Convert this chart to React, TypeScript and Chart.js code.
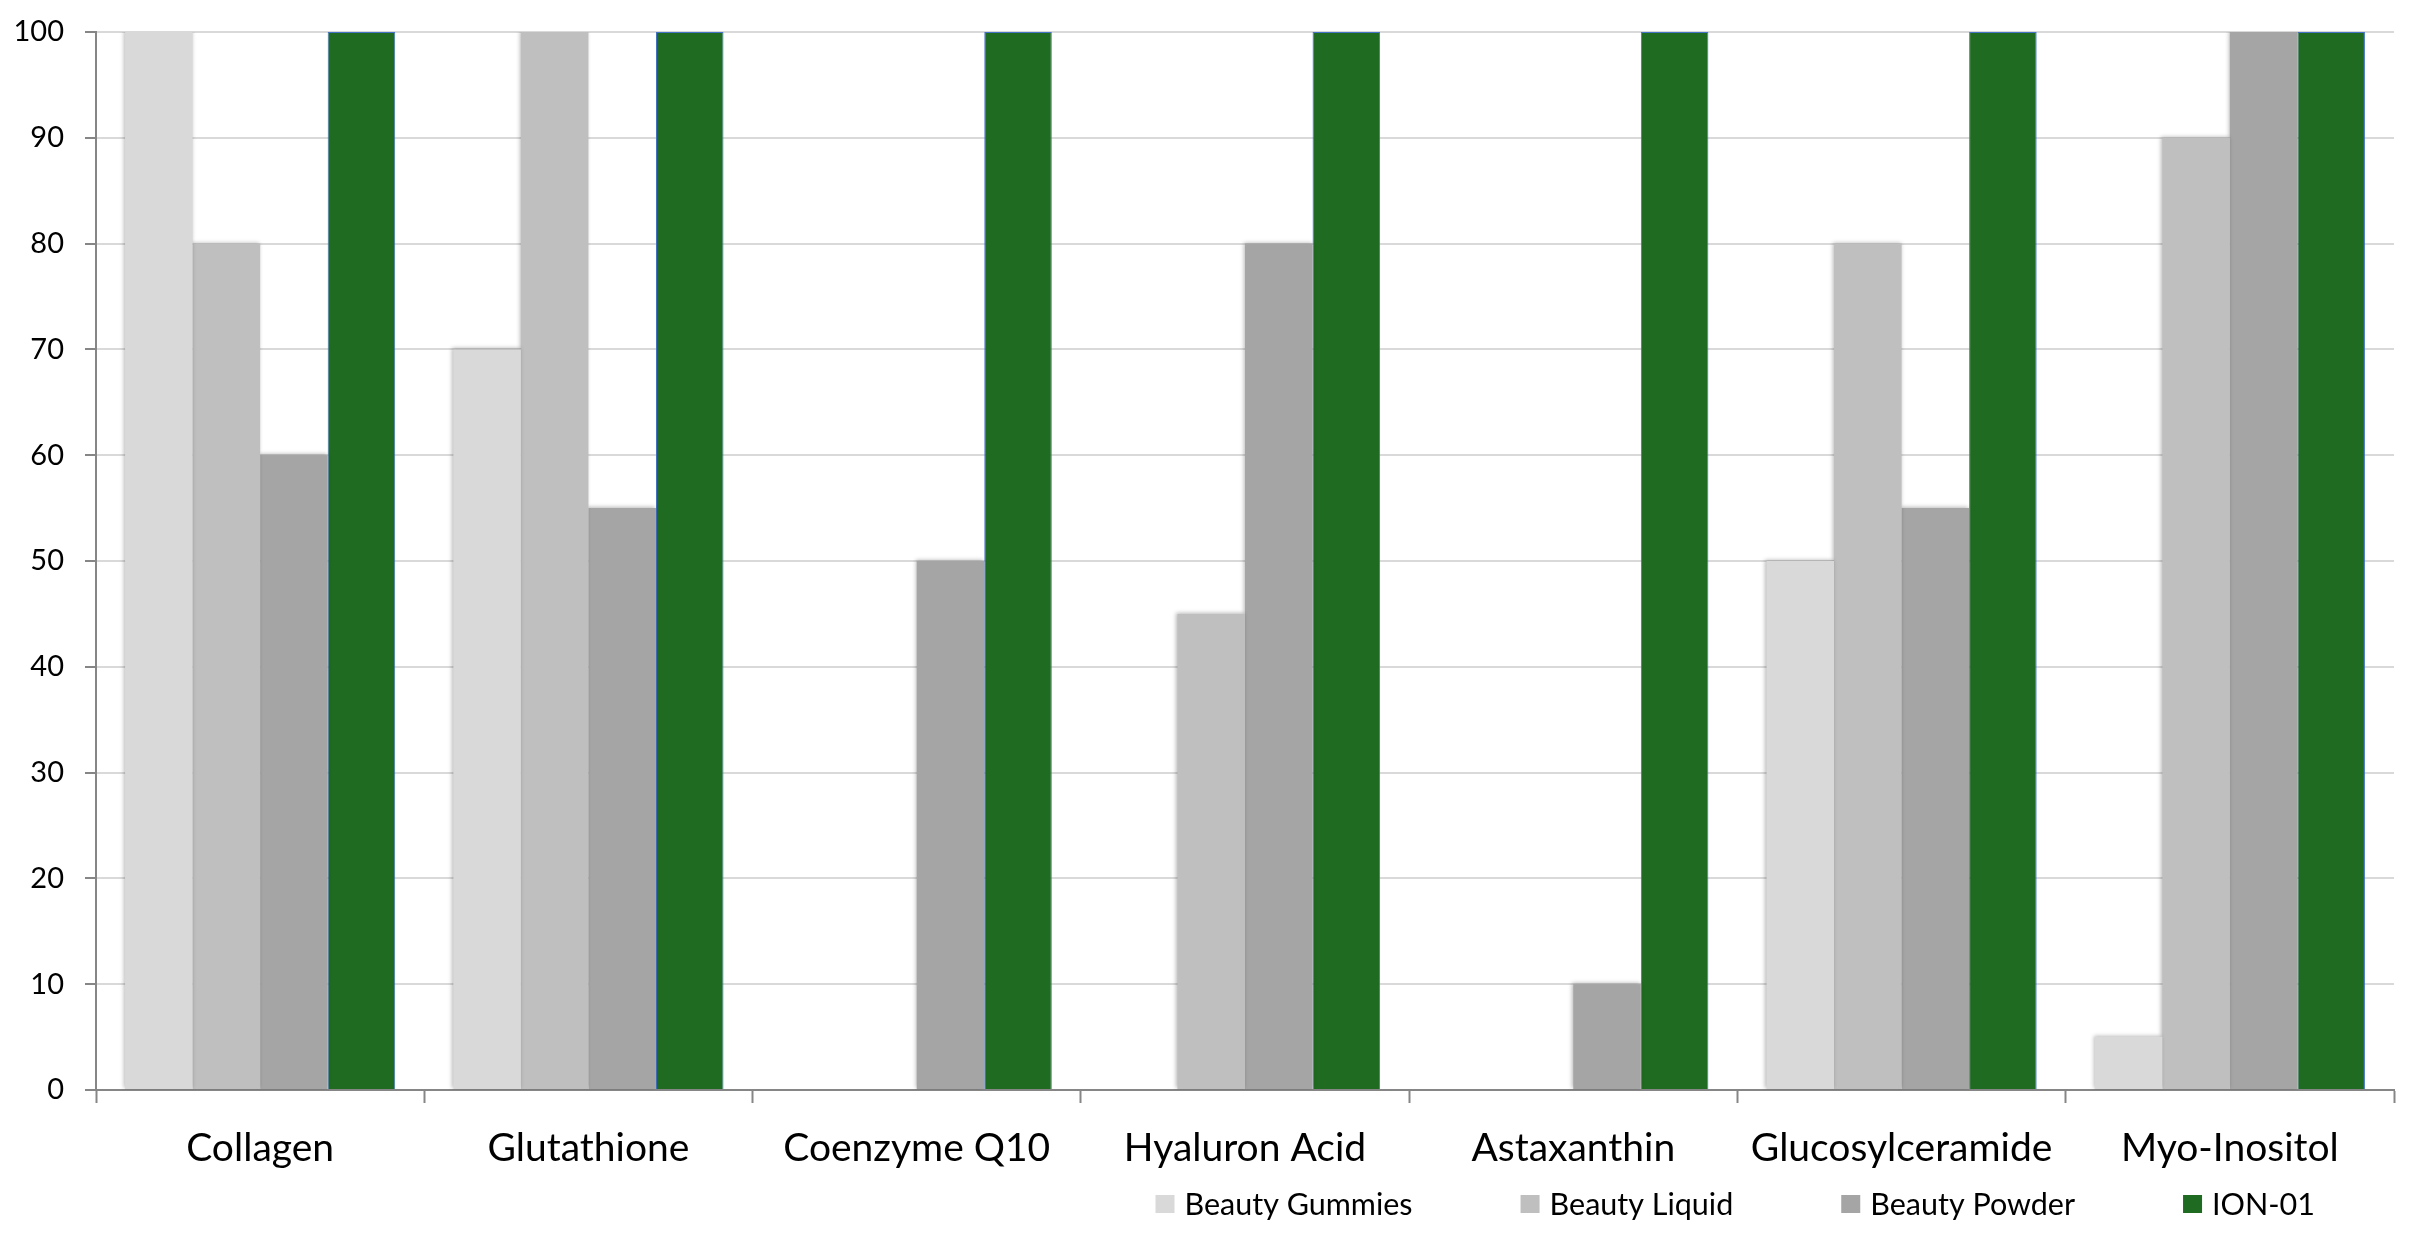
import React, { useEffect, useRef } from "react";
import { Chart, registerables } from "chart.js";

Chart.register(...registerables);

const categories = [
  "Collagen",
  "Glutathione",
  "Coenzyme Q10",
  "Hyaluron Acid",
  "Astaxanthin",
  "Glucosylceramide",
  "Myo-Inositol",
];
const seriesNames = ["Beauty Gummies", "Beauty Liquid", "Beauty Powder", "ION-01"];
const beautyGummies = [100, 70, 0, 0, 0, 50, 5];
const beautyLiquid = [80, 100, 0, 45, 0, 80, 90];
const beautyPowder = [60, 55, 50, 80, 10, 55, 100];
const ion01 = [100, 100, 100, 100, 100, 100, 100];
const seriesColors = ["#d9d9d9", "#bfbfbf", "#a5a5a5", "#1f6b21"];
const yMin = 0;
const yMax = 100;
const yStep = 10;

const FONT = "Lato, 'Open Sans', sans-serif";

const shadowPlugin = {
  id: "softShadow",
  beforeDatasetDraw(chart: any, args: any) {
    const ctx = chart.ctx;
    ctx.save();
    if (args.index < 3) {
      ctx.shadowColor = "rgba(0,0,0,0.28)";
      ctx.shadowBlur = 4;
      ctx.shadowOffsetX = -1;
      ctx.shadowOffsetY = -1;
    }
  },
  afterDatasetDraw(chart: any) {
    chart.ctx.restore();
  },
};

const legendPlugin = {
  id: "customLegend",
  afterDraw(chart: any) {
    const { ctx, chartArea } = chart;
    ctx.save();
    ctx.font = `30.5px ${FONT}`;
    ctx.textBaseline = "middle";
    ctx.textAlign = "left";
    const boxW = 19;
    const boxH = 18;
    const textGap = 10;
    const itemGap = 108;
    const items = chart.data.datasets.map((ds: any) => ({
      text: ds.label as string,
      color: ds.backgroundColor as string,
      w: boxW + textGap + ctx.measureText(ds.label).width,
    }));
    const total =
      items.reduce((s: number, it: any) => s + it.w, 0) + itemGap * (items.length - 1);
    let x = chartArea.right - 79 - total;
    const yMid = chartArea.bottom + 114;
    items.forEach((it: any) => {
      ctx.fillStyle = it.color;
      ctx.fillRect(x, yMid - boxH / 2, boxW, boxH);
      ctx.fillStyle = "#000000";
      ctx.fillText(it.text, x + boxW + textGap, yMid + 1);
      x += it.w + itemGap;
    });
    ctx.restore();
  },
};

export default function App() {
  const canvasRef = useRef<HTMLCanvasElement | null>(null);

  useEffect(() => {
    if (!canvasRef.current) return;
    const seriesValues = [beautyGummies, beautyLiquid, beautyPowder, ion01];
    const chart = new Chart(canvasRef.current, {
      type: "bar",
      data: {
        labels: categories,
        datasets: seriesNames.map((name, i) => ({
          label: name,
          data: seriesValues[i],
          backgroundColor: seriesColors[i],
          borderColor: i === 3 ? "#4472c4" : seriesColors[i],
          borderWidth: i === 3 ? 1 : 0,
          categoryPercentage: 0.823,
          barPercentage: 1.0,
        })),
      },
      options: {
        responsive: true,
        maintainAspectRatio: false,
        animation: false,
        layout: { padding: { left: 0, right: 15, top: 24, bottom: 74 } },
        plugins: {
          legend: { display: false },
          tooltip: { enabled: false },
          title: { display: false },
        },
        scales: {
          x: {
            grid: {
              display: true,
              drawOnChartArea: false,
              drawTicks: true,
              tickLength: 13,
              tickWidth: 2,
              tickColor: "#868686",
              offset: true,
            },
            border: { display: true, color: "#868686", width: 2 },
            ticks: {
              color: "#000000",
              font: { family: FONT, size: 39 },
              padding: 22,
              maxRotation: 0,
              autoSkip: false,
            },
            afterFit(scale: any) {
              scale.height = 80;
            },
          },
          y: {
            min: yMin,
            max: yMax,
            grid: {
              color: "#d9d9d9",
              lineWidth: 2,
              drawTicks: true,
              tickLength: 11,
              tickWidth: 2,
              tickColor: "#868686",
            },
            border: { display: true, color: "#868686", width: 2 },
            ticks: {
              stepSize: yStep,
              color: "#000000",
              font: { family: FONT, size: 29 },
              padding: 21,
            },
            afterFit(scale: any) {
              scale.width = 88;
              scale.paddingTop = 0;
              scale.paddingBottom = 0;
            },
          },
        },
      },
      plugins: [shadowPlugin, legendPlugin],
    });
    return () => chart.destroy();
  }, []);

  return (
    <div style={{ width: "2401px", height: "1236px", position: "relative" }}>
      <canvas ref={canvasRef} />
    </div>
  );
}
